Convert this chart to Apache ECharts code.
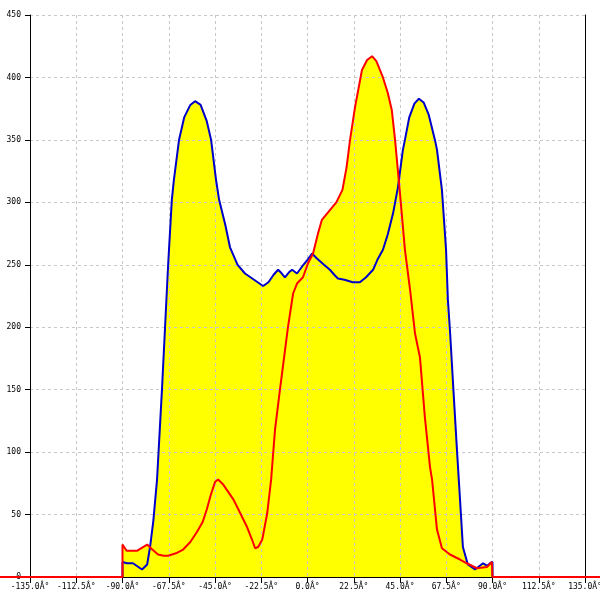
<!DOCTYPE html>
<html><head><meta charset="utf-8">
<script src="https://cdn.jsdelivr.net/npm/echarts@6/dist/echarts.min.js"></script>
<style>html,body{margin:0;padding:0;background:#fff}#c{width:600px;height:600px}</style>
</head><body><div id="c"></div>
<script>
const xTicksMin = -135, xTicksMax = 135, xStep = 22.5;
const yMin = 0, yMax = 450, yStep = 50;
const degSuffix = 'Â°';

const blueX = [-90,-90,-87.8,-84.9,-80.5,-78,-76.6,-75,-73.2,-70.8,-69.3,-67.8,-66,-65,-62.5,-60,-57,-54.7,-52,-49,-46.9,-44.5,-43,-40,-37.7,-34,-30.4,-26,-21.6,-19,-16.5,-14.3,-12.5,-11,-9,-7.5,-5.1,-2,0,2.2,4.6,8,10.9,13,14.8,18,22,25.5,28.5,31.9,34,36.7,39,41.6,44,46.4,47.4,49.5,52,54.2,56.5,59,62,63,65.4,67.4,68.3,69.4,70.8,72.7,74.2,75.6,78,81.5,85.4,87.5,88.8,90,90];
const blueY = [0,12,11,11,6,10,24,45,78,150,200,250,302,318,350,368,378,381,378,365,350,318,302,282,264,250,243,238,233,236,242,246,243,240,244,246,243,250,254,259,255,250,246,242,239,238,236,236,240,246,254,262,274,291,312,342,350,368,379,383,380,370,350,342,310,262,222,195,155,102,62,24,10,6,11,9,11,12,0];

const redX = [-180,-90,-90,-88,-85,-83,-80,-78,-75.5,-72.7,-70,-67.8,-64,-60.5,-57,-53.8,-51,-49,-47,-45,-43.5,-41,-38.5,-36,-33,-29.4,-27,-25.5,-24,-22,-19.6,-17.7,-15.8,-13.4,-9.5,-7,-5.1,-2.2,0.2,2.7,5.1,7,11,14,17,19,20.7,23.1,26.5,29,31.4,33.5,36.7,39,41,42.6,45,47.4,49.9,52.3,54.7,57.1,59.6,60.6,63,65.4,69.3,74.2,77.5,82.4,87.3,89.7,90,180];
const redY = [0,0,26,21,21,21,24,26,22,18,17,17,19,22,28,36,44,54,66,76,78,74,68,62,52,40,30,23,24,30,51,78,118,150,200,227,235,240,251,259,275,286,294,300,310,328,350,376,406,414,417,413,400,388,374,350,307,262,230,195,176,128,88,78,38,23,18,14,11,7,8,12,0,0];

const blueData = blueX.map((x,i)=>[x, blueY[i]]);
const redData = redX.map((x,i)=>[x, redY[i]]);

const W = 600, gL = 30, gR = 15;
const pxPerDeg = (W - gL - gR) / (xTicksMax - xTicksMin);
const wideMin = xTicksMin - gL / pxPerDeg;
const wideMax = xTicksMax + gR / pxPerDeg;

const fontFam = 'DejaVu Sans Mono';
const chart = echarts.init(document.getElementById('c'), null, {renderer:'canvas'});
chart.setOption({
  animation:false,
  backgroundColor:'#ffffff',
  grid:[
    {left:gL,right:gR,top:15,bottom:23,containLabel:false,outerBoundsMode:'none'},
    {left:0,right:0,top:15,bottom:23,containLabel:false,outerBoundsMode:'none'}
  ],
  xAxis:[{
    type:'value', gridIndex:0, min:xTicksMin, max:xTicksMax, interval:xStep,
    axisLine:{show:true,onZero:false,lineStyle:{color:'#000',width:1}},
    axisTick:{show:true,length:6,lineStyle:{color:'#000'}},
    axisLabel:{show:true,margin:6,color:'#000',fontFamily:fontFam,fontSize:8,
      formatter:v=>v.toFixed(1)+degSuffix},
    splitLine:{show:true,lineStyle:{color:'#c8c8c8',type:[3,3],width:1}}
  },{
    type:'value', gridIndex:1, min:wideMin, max:wideMax, show:false
  }],
  yAxis:[{
    type:'value', gridIndex:0, min:yMin, max:yMax, interval:yStep,
    axisLine:{show:true,onZero:false,lineStyle:{color:'#000',width:1}},
    axisTick:{show:true,length:5,lineStyle:{color:'#000'}},
    axisLabel:{show:true,margin:9,color:'#000',fontFamily:fontFam,fontSize:8},
    splitLine:{show:true,lineStyle:{color:'#c8c8c8',type:[3,3],width:1}}
  },{
    type:'value', gridIndex:0, position:'right', min:yMin, max:yMax, interval:yStep,
    axisLine:{show:true,onZero:false,lineStyle:{color:'#000',width:1}},
    axisTick:{show:false}, axisLabel:{show:false}, splitLine:{show:false}
  },{
    type:'value', gridIndex:1, min:yMin, max:yMax, show:false
  }],
  series:[
    {type:'line',data:blueData,symbol:'none',z:-1,lineStyle:{width:0},areaStyle:{color:'#ffff00',opacity:1},silent:true},
    {type:'line',data:redData,symbol:'none',z:-1,lineStyle:{width:0},areaStyle:{color:'#ffff00',opacity:1},silent:true},
    {type:'line',data:blueData,symbol:'none',z:5,lineStyle:{color:'#0000cc',width:2}},
    {type:'line',data:redData,xAxisIndex:1,yAxisIndex:2,symbol:'none',z:6,lineStyle:{color:'#ff0000',width:2}}
  ]
});
</script></body></html>
